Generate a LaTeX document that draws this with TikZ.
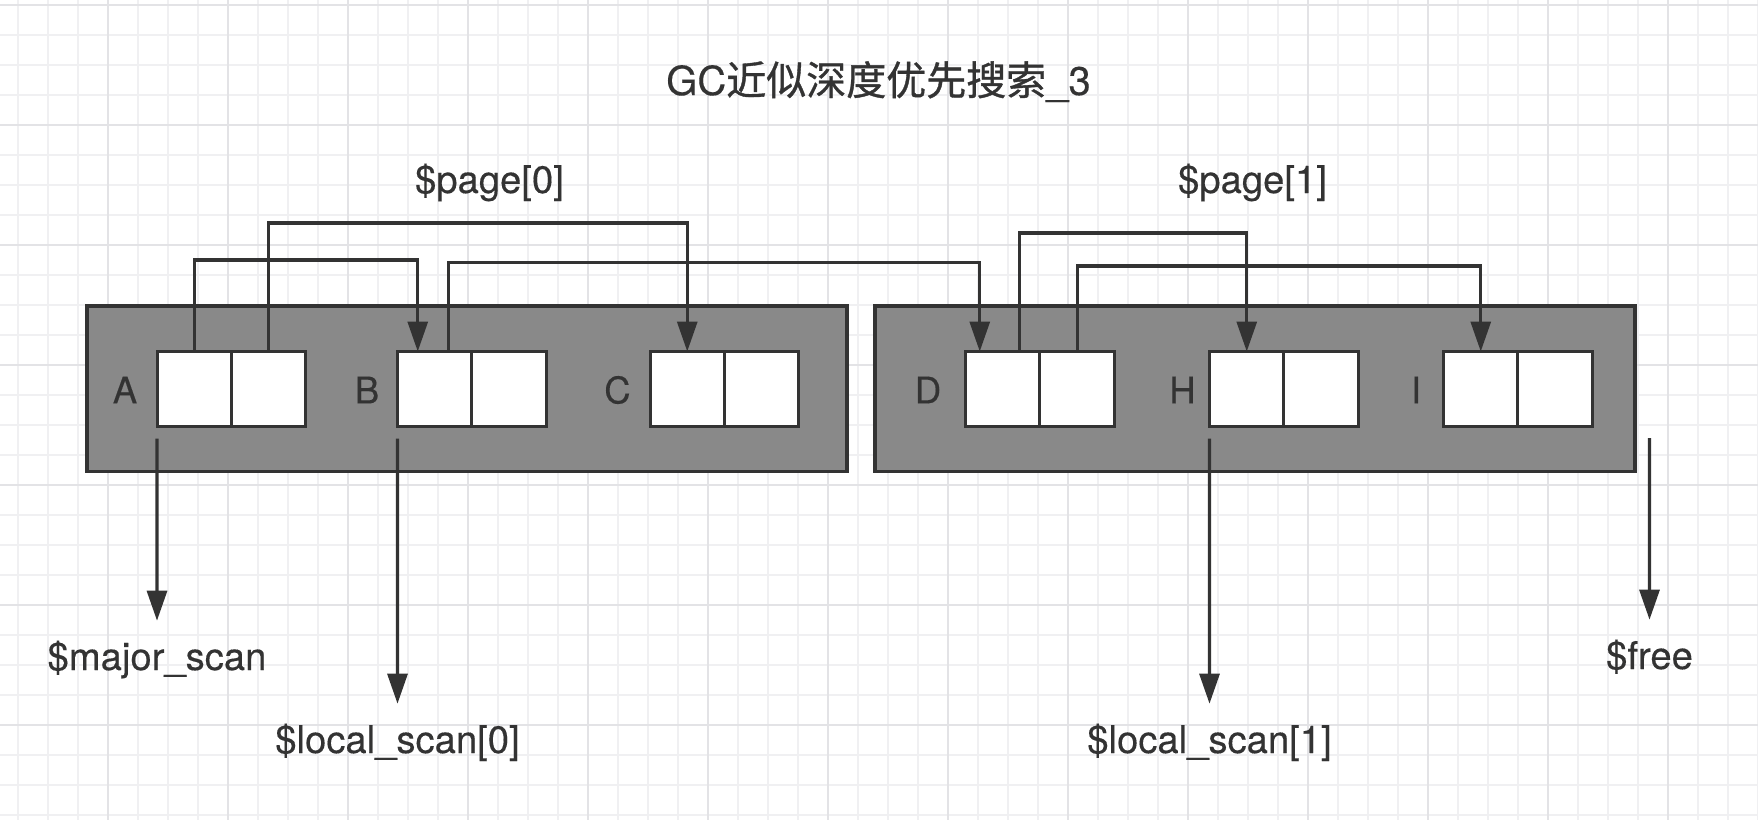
\documentclass[tikz,border=0pt]{standalone}
\usepackage{fontspec}
\setmainfont{TeX Gyre Heros}[FakeBold=0.3]
\newfontfamily\cjk{Noto Sans CJK SC}[FakeBold=0.9]
\usepackage{xcolor}
\usepackage{tikz}
\usetikzlibrary{positioning,arrows.meta,calc}

\definecolor{ink}{HTML}{333333}
\definecolor{pagegray}{HTML}{898989}
\definecolor{gridmin}{HTML}{F0F0F2}
\definecolor{gridmaj}{HTML}{E3E3E6}

\begin{document}
\begin{tikzpicture}[
  x=0.45pt, y=-0.45pt,
  page/.style={rectangle, draw=ink, fill=pagegray, line width=1.5pt,
             minimum width=342pt, minimum height=74.5pt, inner sep=0pt, outer sep=0pt},
  cell/.style={rectangle, draw=ink, fill=white, line width=1.35pt,
             minimum width=33.5pt, minimum height=33.75pt, inner sep=0pt, outer sep=0pt},
  obj/.style={text=ink, font=\fontsize{16.5}{18}\selectfont, inner sep=0pt},
  lbl/.style={text=ink, font=\fontsize{17.2}{20}\selectfont, inner sep=0pt,
             text height=12.5pt, text depth=4pt, anchor=base},
  ttl/.style={text=ink, font=\fontsize{18}{22}\selectfont, inner sep=0pt, anchor=base},
  arr/.style={-{Triangle[length=13.5pt,width=9pt]}, line width=1.4pt, draw=ink},
  ptr/.style={arr, shorten >=9.5pt},
]

% --- background grid ---
\useasboundingbox (0,0) rectangle (1758,820);
\fill[white] (0,0) rectangle (1758,820);
\foreach \x in {18,48,...,1758} \draw[gridmin, line width=0.9pt] (\x,0) -- (\x,820);
\foreach \y in {5,35,...,820} \draw[gridmin, line width=0.9pt] (0,\y) -- (1758,\y);
\foreach \x in {108,228,...,1758} \draw[gridmaj, line width=1.1pt] (\x,0) -- (\x,820);
\foreach \y in {5,125,...,820} \draw[gridmaj, line width=1.1pt] (0,\y) -- (1758,\y);

% --- title and page names ---
\node[ttl] (title) at (878.5,95) {GC{\cjk 近似深度优先搜索}\_3};
\node[lbl] (p0) at (489.5,193) {\$page[0]};
\node[lbl] (p1) at (1252.5,193) {\$page[1]};

% --- pages ---
\node[page] (pg0) at (467,388.75) {};
\node[page] (pg1) at (1255,388.75) {};

% --- objects on page 0 ---
\node[cell] (A1) at (194.25,389) {};
\node[cell, right=0pt of A1] (A2) {};
\node[cell] (B1) at (434.75,389) {};
\node[cell, right=0pt of B1] (B2) {};
\node[cell] (C1) at (687.25,389) {};
\node[cell, right=0pt of C1] (C2) {};
\node[obj] (A) at (125,390) {A};
\node[obj] (B) at (367,390) {B};
\node[obj] (C) at (617.5,390) {C};

% --- objects on page 1 ---
\node[cell] (D1) at (1002.75,389) {};
\node[cell, right=0pt of D1] (D2) {};
\node[cell] (H1) at (1246.75,389) {};
\node[cell, right=0pt of H1] (H2) {};
\node[cell] (I1) at (1480.75,389) {};
\node[cell, right=0pt of I1] (I2) {};
\node[obj] (D) at (928,390) {D};
\node[obj] (H) at (1182.5,390) {H};
\node[obj] (I) at (1416,390) {I};

% --- references between objects ---
\draw[arr] (A1.north) -- ++(0,-91.5) -| ($(B1.north)+(-17,0)$);
\draw[arr] (A2.north) -- ++(0,-128.5) -| (C1.north);
\draw[arr] ($(B1.north)+(14,0)$) -- ++(0,-89) -| ($(D1.north)+(-23,0)$);
\draw[arr] ($(D1.north)+(17,0)$) -- ++(0,-118.5) -| (H1.north);
\draw[arr] (D2.north) -- ++(0,-85.5) -| (I1.north);

% --- scan pointers ---
\node[lbl] (mscan) at (157,670) {\$major\_scan};
\node[lbl] (lscan0) at (397.5,753) {\$local\_scan[0]};
\node[lbl] (lscan1) at (1209.5,753) {\$local\_scan[1]};
\node[lbl] (free) at (1649.5,669) {\$free};
\draw[ptr] ($(A1.south west)+(0,12)$) -- (mscan.north);
\draw[ptr] ($(B1.south west)+(0,12)$) -- (lscan0.north);
\draw[ptr] ($(H1.south west)+(0,12)$) -- (lscan1.north);
\draw[ptr] ($(pg1.south east)+(14.5,-33.5)$) -- (free.north);

\end{tikzpicture}
\end{document}
